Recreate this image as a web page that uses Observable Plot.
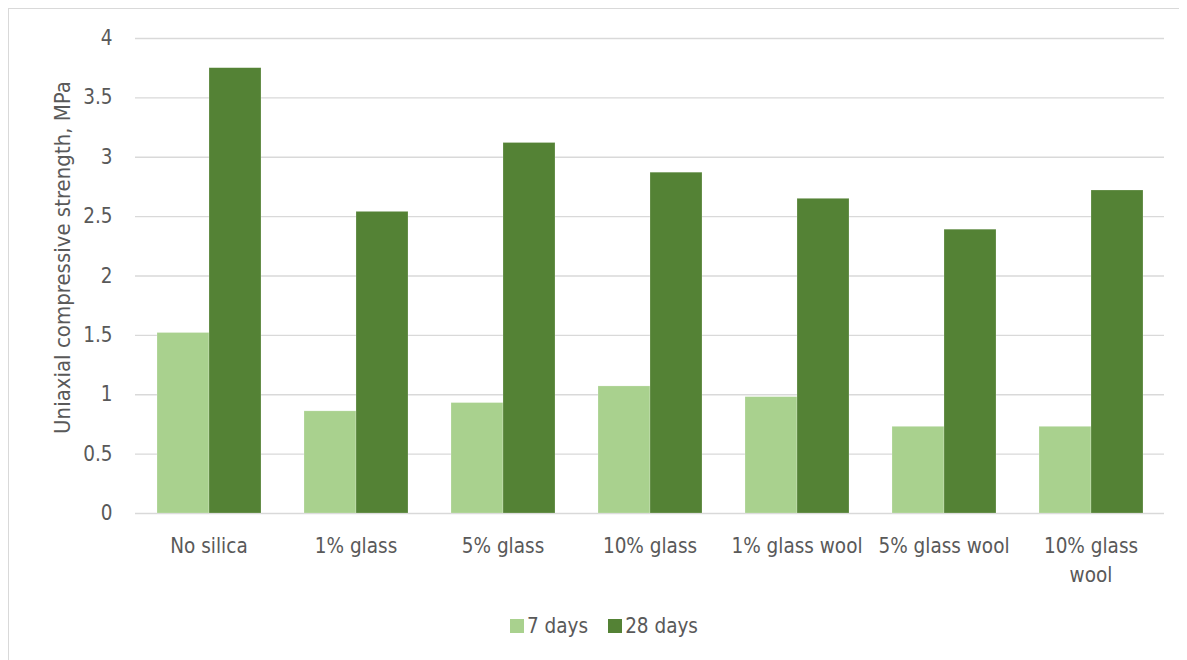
<!DOCTYPE html>
<html>
<head>
<meta charset="utf-8">
<script src="https://cdn.jsdelivr.net/npm/d3@7"></script>
<script src="https://cdn.jsdelivr.net/npm/@observablehq/plot@0.6"></script>
<style>
  body { margin: 8px; background: #fff; font-family: "DejaVu Sans Condensed", "Liberation Sans", sans-serif; }
  #frame { border-top: 1px solid #d9d9d9; border-left: 1px solid #d9d9d9; width: 1180px; height: 660px; }
  #legend { display: flex; gap: 20px; padding-left: 501px; margin-top: 15px; font-size: 20.5px; color: #595959; }
  #legend .item { display: flex; align-items: center; gap: 3px; }
  #legend .sw { width: 14px; height: 14px; display: inline-block; }
</style>
</head>
<body>
<div id="frame"></div>
<script>
// Uniaxial compressive strength (MPa) after 7 and 28 days of curing
const categories = ["No silica", "1% glass", "5% glass", "10% glass", "1% glass wool", "5% glass wool", "10% glass wool"];
const tickLabels = ["No silica", "1% glass", "5% glass", "10% glass", "1% glass wool", "5% glass wool", "10% glass\nwool"];
const series = ["7 days", "28 days"];
const colors = ["#a9d18e", "#548235"];
const days7 = [1.52, 0.86, 0.93, 1.07, 0.98, 0.73, 0.73];
const days28 = [3.75, 2.54, 3.12, 2.87, 2.65, 2.39, 2.72];
const yTicks = [0, 0.5, 1, 1.5, 2, 2.5, 3, 3.5, 4];

const data = categories.flatMap((c, i) => [
  {category: c, series: series[0], value: days7[i]},
  {category: c, series: series[1], value: days28[i]}
]);

const font = '"DejaVu Sans Condensed", "Liberation Sans", sans-serif';

const chart = Plot.plot({
  width: 1170,
  height: 590,
  marginLeft: 126,
  marginRight: 15,
  marginTop: 29,
  marginBottom: 86,
  style: {fontFamily: font, color: "#595959", background: "#fff"},
  fx: {domain: categories, padding: 0, label: null, axis: null},
  x: {domain: series, paddingInner: 0, paddingOuter: 0.413, axis: null},
  y: {domain: [0, 4], label: null},
  color: {domain: series, range: colors},
  marks: [
    Plot.gridY(yTicks, {stroke: "#d9d9d9", strokeOpacity: 1, strokeWidth: 1.4}),
    Plot.barY(data, {fx: "category", x: "series", y: "value", fill: "series", stroke: "#ffffff", strokeWidth: 0.6, strokeOpacity: 0.35}),
    Plot.axisY(yTicks, {tickSize: 0, tickPadding: 23, fontSize: 20.5, tickFormat: d => String(d), label: null}),
    Plot.axisFx({anchor: "bottom", tickSize: 0, tickPadding: 18, fontSize: 20.5, lineHeight: 1.45, tickFormat: d => tickLabels[categories.indexOf(d)], label: null}),
    Plot.text(["Uniaxial compressive strength, MPa"], {
      frameAnchor: "left", textAnchor: "middle", rotate: -90, dx: -73, dy: -18.5, fontSize: 22, fill: "#595959",
      facet: "super"
    })
  ]
});

const frame = document.getElementById("frame");
frame.appendChild(chart);

// Legend built from the same series and colour lists
const legend = d3.select(frame).append("div").attr("id", "legend");
series.forEach((s, i) => {
  const item = legend.append("div").attr("class", "item");
  item.append("span").attr("class", "sw").style("background", colors[i]);
  item.append("span").text(s);
});
</script>
</body>
</html>
